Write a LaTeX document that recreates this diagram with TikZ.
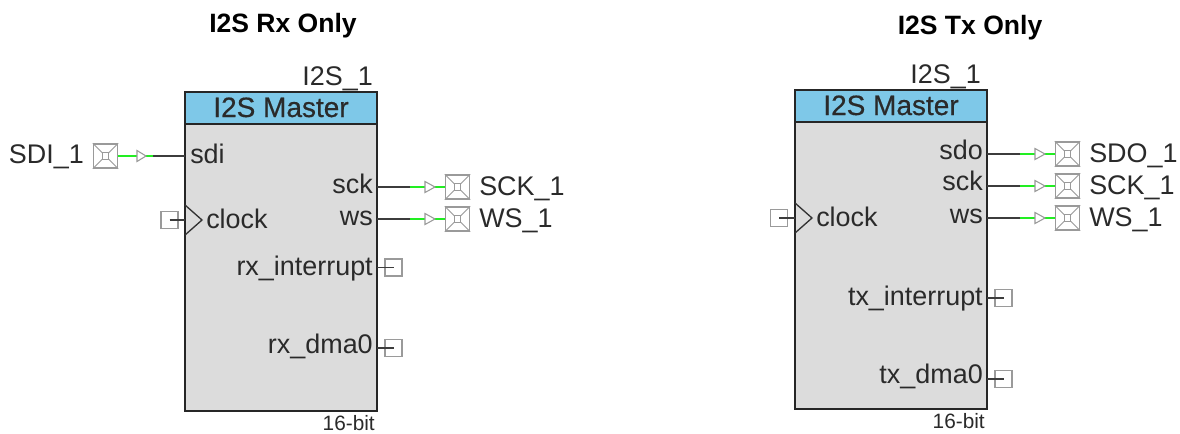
\documentclass[tikz,border=0pt]{standalone}
\usepackage{fontspec}
\setmainfont{Liberation Sans}
\newfontfamily\hdrfont[FakeBold=0.5]{Liberation Sans}
\definecolor{hdr}{HTML}{7EC8E8}
\definecolor{body}{HTML}{DCDCDC}
\definecolor{wire}{HTML}{3C3C3C}
\definecolor{gr}{HTML}{22EE22}
\definecolor{pingray}{HTML}{9A9A9A}
\definecolor{txt}{HTML}{2A2A2A}
\tikzset{
 lbl/.style={inner sep=0pt,font=\fontsize{20.2}{22}\selectfont,text=txt},
 hlbl/.style={inner sep=0pt,font=\hdrfont\fontsize{21}{22}\selectfont,text=txt},
 ttl/.style={inner sep=0pt,font=\fontsize{19.9}{22}\selectfont\bfseries,text=black},
 small/.style={inner sep=0pt,font=\fontsize{15.6}{18}\selectfont,text=txt},
 blk/.style={draw=black!85,line width=1.5pt,fill=body},
 hd/.style={draw=black!85,line width=1.5pt,fill=hdr},
 wr/.style={draw=wire,line width=1.4pt},
 stub/.style={draw=wire,line width=1pt},
 grn/.style={draw=gr,line width=1.4pt},
 tri/.style={draw=pingray,line width=.8pt,fill=white},
 pinbox/.style={draw=pingray,line width=1.1pt,fill=white,minimum size=18pt,inner sep=0pt},
 termbox/.style={draw=pingray,line width=1.1pt,fill=white,minimum size=12.5pt,inner sep=0pt},
}
\newcommand{\iobox}[2]{%
 \node[pinbox] (#2) at (#1) {};
 \draw[pingray,line width=.7pt] (#2.north west)--([shift={(-2.5pt,2.5pt)}]#2.center) (#2.north east)--([shift={(2.5pt,2.5pt)}]#2.center)
   (#2.south west)--([shift={(-2.5pt,-2.5pt)}]#2.center) (#2.south east)--([shift={(2.5pt,-2.5pt)}]#2.center);
 \draw[pingray,line width=.6pt] ([shift={(-2.5pt,-2.5pt)}]#2.center) rectangle ([shift={(2.5pt,2.5pt)}]#2.center);
}
\newcommand{\outwire}[2]{%
 \coordinate (g) at ([xshift=33*.75pt]#1);
 \coordinate (t) at ([xshift=48*.75pt]#1);
 \draw[wr] (#1)--(g);
 \draw[grn] (g)--(#2.west);
 \draw[tri] (t) ++(0,-5.5*.75pt) -- ++(10*.75pt,5.5*.75pt) -- ++(-10*.75pt,5.5*.75pt) -- cycle;
}
\newcommand{\termL}[2]{%
 \node[termbox] (#2) at (#1) {};
}
\begin{document}
\begin{tikzpicture}[x=.75pt,y=-.75pt]
\useasboundingbox (0,0) rectangle (1180,433);
\node[ttl,anchor=base] (t1) at (283,32) {I2S Rx Only};
\node[ttl,anchor=base] (t2) at (970,34) {I2S Tx Only};
% --- left block
\draw[blk] (185,92) rectangle (377,411);
\draw[hd] (185,92) rectangle (377,123.5);
\node[hlbl,anchor=base] (h1) at (281,117) {I2S Master};
\node[lbl,anchor=base east] (n1) at (373,85) {I2S\_1};
\node[small,anchor=base east] (b1) at (375,430) {16-bit};
\node[lbl,anchor=base west] (sdi) at (190,163) {sdi};
\node[lbl,anchor=base west] (clk1) at (206,228) {clock};
\node[lbl,anchor=base east] (sck1) at (373,193) {sck};
\node[lbl,anchor=base east] (ws1) at (373,225) {ws};
\node[lbl,anchor=base east] (rxi) at (373,275) {rx\_interrupt};
\node[lbl,anchor=base east] (rxd) at (373,353) {rx\_dma0};
% sdi input
\iobox{105.5,156}{SDIb}
\coordinate (pSdi) at (185,156);
\coordinate (gSdi) at (153,156);
\draw[wr] (pSdi)--(gSdi);
\draw[grn] (SDIb.east)--(gSdi);
\draw[tri] (137,150.5)--(146,156)--(137,161.5)--cycle;
\node[lbl,anchor=base east] (SDIl) at (84,163) {SDI\_1};
% outputs
\coordinate (pSck) at (377,187);
\coordinate (pWs) at (377,219);
\iobox{457.5,187}{SCKb}
\iobox{457.5,219}{WSb}
\outwire{pSck}{SCKb}
\outwire{pWs}{WSb}
\node[lbl,anchor=base west] (SCKl) at (479,195) {SCK\_1};
\node[lbl,anchor=base west] (WSl) at (479,227) {WS\_1};
% clock
\termL{169.5,220}{cb1}
\coordinate (pc1) at (185,220);
\draw[stub] (cb1.center)--(pc1);
\draw[black!80,line width=1pt] (185,205)--(202,220)--(185,235);
% terminals
\termL{393.5,267.5}{ib1}
\termL{393.5,348}{db1}
\coordinate (pi1) at (377,267.5);
\coordinate (pd1) at (377,348);
\draw[stub] (pi1)--(ib1.center);
\draw[stub] (pd1)--(db1.center);
% --- right block
\draw[blk] (795,90) rectangle (987,409);
\draw[hd] (795,90) rectangle (987,122);
\node[hlbl,anchor=base] (h2) at (891,115) {I2S Master};
\node[lbl,anchor=base east] (n2) at (981,83) {I2S\_1};
\node[small,anchor=base east] (b2) at (985,428) {16-bit};
\node[lbl,anchor=base west] (clk2) at (816,226) {clock};
\node[lbl,anchor=base east] (sdo) at (983,159) {sdo};
\node[lbl,anchor=base east] (sck2) at (983,190) {sck};
\node[lbl,anchor=base east] (ws2) at (983,223) {ws};
\node[lbl,anchor=base east] (txi) at (983,305) {tx\_interrupt};
\node[lbl,anchor=base east] (txd) at (983,383) {tx\_dma0};
\coordinate (pSdo) at (987,154);
\coordinate (pSck2) at (987,186);
\coordinate (pWs2) at (987,218);
\iobox{1067.5,154}{SDOb}
\iobox{1067.5,186}{SCK2b}
\iobox{1067.5,218}{WS2b}
\outwire{pSdo}{SDOb}
\outwire{pSck2}{SCK2b}
\outwire{pWs2}{WS2b}
\node[lbl,anchor=base west] (SDOl) at (1089,162) {SDO\_1};
\node[lbl,anchor=base west] (SCK2l) at (1089,194) {SCK\_1};
\node[lbl,anchor=base west] (WS2l) at (1089,226) {WS\_1};
\termL{779,218}{cb2}
\coordinate (pc2) at (795,218);
\draw[stub] (cb2.center)--(pc2);
\draw[black!80,line width=1pt] (795,203)--(812,218)--(795,233);
\termL{1003.5,298}{ib2}
\termL{1003.5,379}{db2}
\coordinate (pi2) at (987,298);
\coordinate (pd2) at (987,379);
\draw[stub] (pi2)--(ib2.center);
\draw[stub] (pd2)--(db2.center);
\end{tikzpicture}
\end{document}
